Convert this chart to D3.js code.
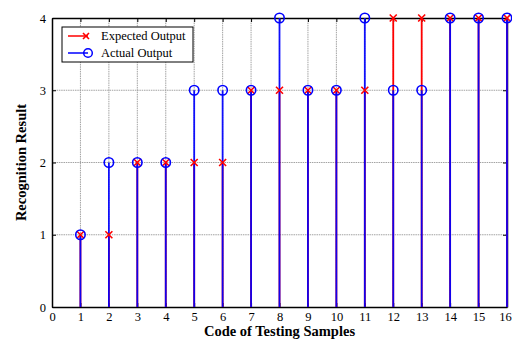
<!DOCTYPE html>
<html><head><meta charset="utf-8">
<script src="https://cdn.jsdelivr.net/npm/d3@7"></script>
<style>body{margin:0;background:#fff}svg{display:block}text{font-family:"Liberation Serif","Times New Roman",serif}</style>
</head><body>
<svg id="c" width="512" height="340"></svg>
<script>
const samples = [1,2,3,4,5,6,7,8,9,10,11,12,13,14,15,16];
const expected = [1,1,2,2,2,2,3,3,3,3,3,4,4,4,4,4];
const actual   = [1,2,2,2,3,3,3,4,3,3,4,3,3,4,4,4];
const xTicks = d3.range(0,17);
const yTicks = [0,1,2,3,4];

const svg = d3.select("#c");
const L=52,R=507,T=18,B=307;
const x = d3.scaleLinear().domain([0,16]).range([L,R]);
const y = d3.scaleLinear().domain([0,4]).range([B,T]);
const g = svg.append("g");

// grid
g.selectAll(".vg").data(xTicks.slice(1,16)).join("line")
 .attr("x1",d=>x(d)).attr("x2",d=>x(d)).attr("y1",T).attr("y2",B)
 .attr("stroke","#999").attr("stroke-width",0.9).attr("stroke-dasharray","1.5,0.8");
g.selectAll(".hg").data(yTicks.slice(1,4)).join("line")
 .attr("x1",L).attr("x2",R).attr("y1",d=>y(d)).attr("y2",d=>y(d))
 .attr("stroke","#999").attr("stroke-width",0.9).attr("stroke-dasharray","1.5,0.8");

// axes
const fmt = d3.format("d");
const xa = d3.axisBottom(x).tickValues(xTicks).tickFormat(fmt).tickSizeInner(-4).tickSizeOuter(0).tickPadding(5);
const ya = d3.axisLeft(y).tickValues(yTicks).tickFormat(fmt).tickSizeInner(-4).tickSizeOuter(0).tickPadding(6);
const gx = g.append("g").attr("transform",`translate(0,${B})`).call(xa);
const gy = g.append("g").attr("transform",`translate(${L},0)`).call(ya);
const gxt = g.append("g").attr("transform",`translate(0,${T})`).call(d3.axisTop(x).tickValues(xTicks).tickSizeInner(-4).tickSizeOuter(0).tickFormat(""));
const gyr = g.append("g").attr("transform",`translate(${R},0)`).call(d3.axisRight(y).tickValues(yTicks).tickSizeInner(-4).tickSizeOuter(0).tickFormat(""));
[gx,gy,gxt,gyr].forEach(a=>{a.attr("font-family",null).attr("font-size",null);
 a.select(".domain").attr("stroke","#000").attr("stroke-width",1.5);
 a.selectAll(".tick line").attr("stroke","#000");
 a.selectAll("text").attr("font-size",12.5).attr("fill","#000");});
gx.selectAll(".tick text").filter(d=>d===16).attr("dx",-2);

// stems
const data = samples.map((s,i)=>({s,e:expected[i],a:actual[i]}));
g.selectAll(".se").data(data).join("line")
 .attr("x1",d=>x(d.s)).attr("x2",d=>x(d.s)).attr("y1",y(0)).attr("y2",d=>y(d.e))
 .attr("stroke","#ff0000").attr("stroke-width",1.8);
g.selectAll(".sa").data(data).join("line")
 .attr("x1",d=>x(d.s)).attr("x2",d=>x(d.s)).attr("y1",y(0)).attr("y2",d=>y(d.a))
 .attr("stroke","#0000ff").attr("stroke-width",1.8).attr("opacity",0.93);

// markers
const xm = (sel,cx,cy,s)=>{sel.append("path").attr("d",`M${cx-s},${cy-s}L${cx+s},${cy+s}M${cx-s},${cy+s}L${cx+s},${cy-s}`)
 .attr("stroke","#ff0000").attr("stroke-width",1.6).attr("fill","none");};
data.forEach(d=>xm(g,x(d.s),y(d.e),3.5));
g.selectAll(".ma").data(data).join("circle")
 .attr("cx",d=>x(d.s)).attr("cy",d=>y(d.a)).attr("r",4.7)
 .attr("fill","none").attr("stroke","#0000ff").attr("stroke-width",1.6);

// legend
const lg = g.append("g");
lg.append("rect").attr("x",62).attr("y",27).attr("width",131).attr("height",35)
 .attr("fill","#fff").attr("stroke","#000").attr("stroke-width",1);
lg.append("line").attr("x1",68).attr("x2",88).attr("y1",36).attr("y2",36).attr("stroke","#ff0000").attr("stroke-width",1.5);
xm(lg,86,36,3);
lg.append("line").attr("x1",68).attr("x2",88).attr("y1",53).attr("y2",53).attr("stroke","#0000ff").attr("stroke-width",1.5);
lg.append("circle").attr("cx",88).attr("cy",53).attr("r",4.3).attr("fill","none").attr("stroke","#0000ff").attr("stroke-width",1.5);
lg.append("text").attr("x",101).attr("y",40).attr("font-size",12.5).text("Expected Output");
lg.append("text").attr("x",101).attr("y",57).attr("font-size",12.5).text("Actual Output");

// axis labels
svg.append("text").attr("x",(L+R)/2).attr("y",336).attr("text-anchor","middle")
 .attr("font-size",14.5).attr("font-weight","bold").text("Code of Testing Samples");
svg.append("text").attr("transform",`translate(26,${(T+B)/2}) rotate(-90)`).attr("text-anchor","middle")
 .attr("font-size",14.5).attr("font-weight","bold").text("Recognition Result");
</script>
</body></html>
